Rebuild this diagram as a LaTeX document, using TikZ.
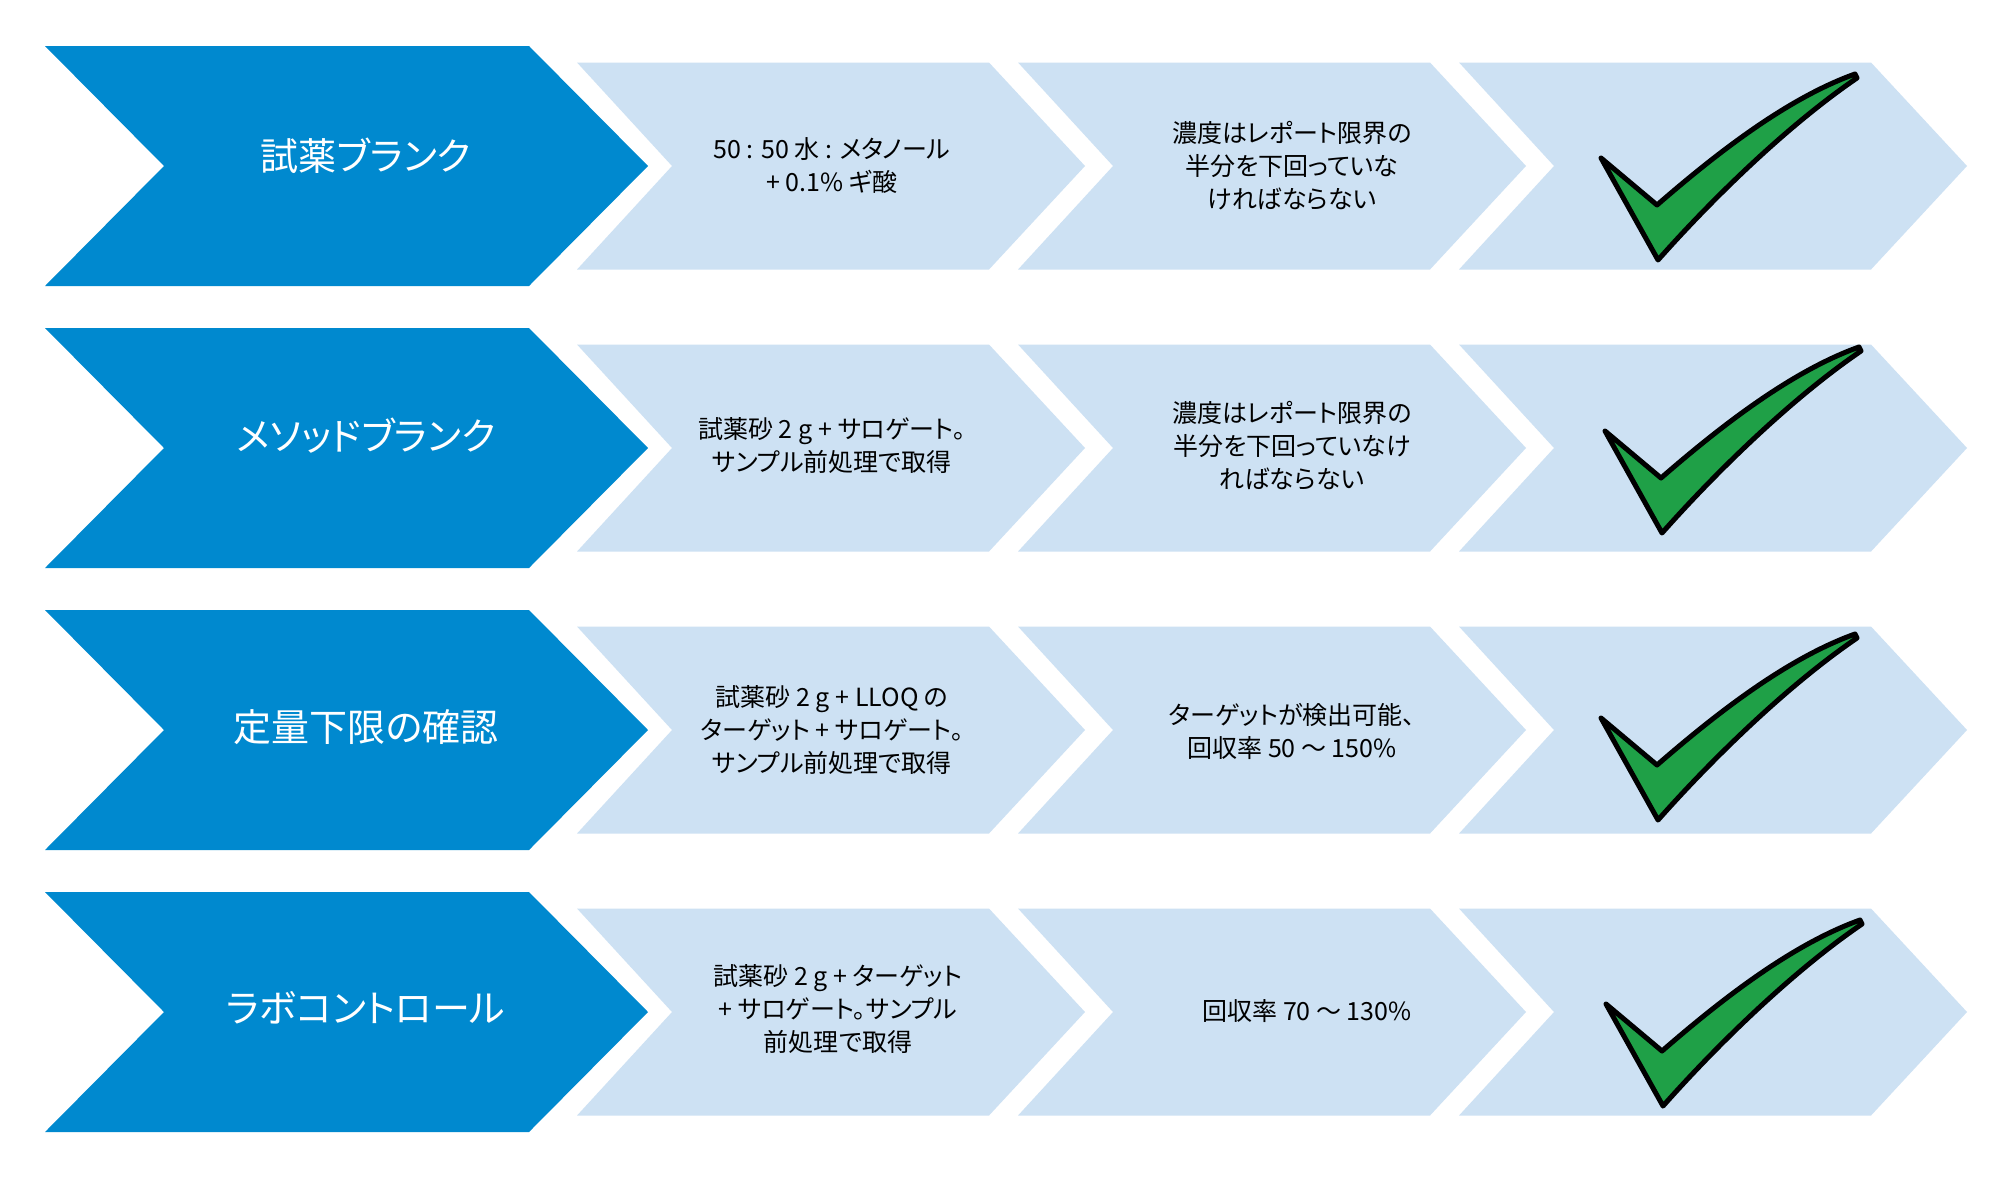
\documentclass[tikz,border=0pt]{standalone}
\usepackage{fontspec}
\newfontfamily\jp[RawFeature={+palt}]{Noto Sans CJK JP}
\definecolor{darkblue}{RGB}{0,137,207}
\definecolor{lightblue}{RGB}{205,225,243}
\definecolor{checkgreen}{RGB}{31,160,71}
\begin{document}
\begin{tikzpicture}[x=0.5pt,y=-0.5pt,
  darkchev/.pic={\fill[darkblue] (0,-120) -- (484,-120) -- (603,0) -- (484,120) -- (0,120) -- (119,0) -- cycle;},
  lightchev/.pic={\fill[lightblue] (0,-103.5) -- (412,-103.5) -- (508,0) -- (412,103.5) -- (0,103.5) -- (95,0) -- cycle;},
  checkmark/.pic={\filldraw[fill=checkgreen,draw=black,line width=2.5pt,line join=round]
     (-57,-102) -- (-1,-55) .. controls (60,-108) and (130,-162) .. (197,-186)
     -- (199,-182) .. controls (130,-135) and (55,-62) .. (0,0) -- cycle;},
  darktext/.style={text=white,font=\jp\fontsize{19}{23}\selectfont},
  lighttext/.style={text=black,align=center,font=\jp\fontsize{12.5}{16.5}\selectfont}]
\fill[white] (0,0) rectangle (2000,1184);
\useasboundingbox (0,0) rectangle (2000,1184);
% chevrons
\foreach \y in {166,448,730,1012}{
  \pic at (45,\y) {darkchev};
  \pic at (577,\y) {lightchev};
  \pic at (1018,\y) {lightchev};
  \pic at (1459,\y) {lightchev};
}
% check marks
\pic at (1658,260) {checkmark};
\pic at (1662,533) {checkmark};
\pic at (1658,820) {checkmark};
\pic at (1663,1106) {checkmark};
% row 1
\node[darktext] (t11) at (366,156) {試薬ブランク};
\node[lighttext] (t12) at (832,166) {50 : 50 水 : メタノール\\+ 0.1\% ギ酸};
\node[lighttext] (t13) at (1292,166) {濃度はレポート限界の\\半分を下回っていな\\ければならない};
% row 2
\node[darktext] (t21) at (366,436) {メソッドブランク};
\node[lighttext] (t22) at (832,446) {試薬砂 2 g + サロゲート。\\サンプル前処理で取得};
\node[lighttext] (t23) at (1292,446) {濃度はレポート限界の\\半分を下回っていなけ\\ればならない};
% row 3
\node[darktext] (t31) at (366,727) {定量下限の確認};
\node[lighttext] (t32) at (832,730) {試薬砂 2 g + LLOQ の\\ターゲット + サロゲート。\\サンプル前処理で取得};
\node[lighttext] (t33) at (1292,731) {ターゲットが検出可能、\\回収率 50 ～ 150\%};
% row 4
\node[darktext] (t41) at (366,1008) {ラボコントロール};
\node[lighttext] (t42) at (838,1009) {試薬砂 2 g + ターゲット\\+ サロゲート。サンプル\\前処理で取得};
\node[lighttext] (t43) at (1307,1011) {回収率 70 ～ 130\%};
\end{tikzpicture}
\end{document}
